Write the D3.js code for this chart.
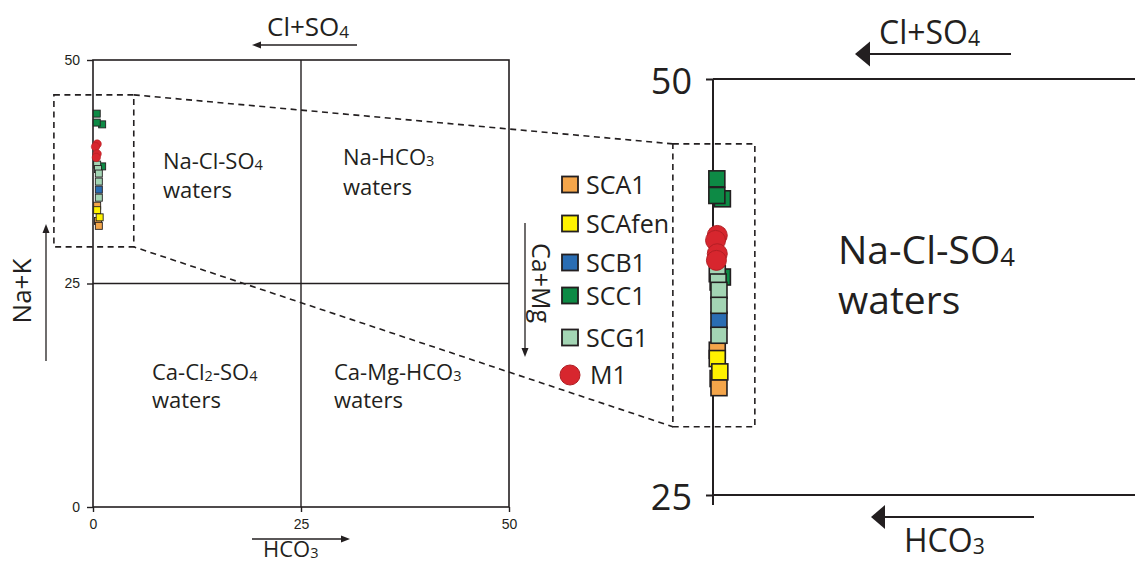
<!DOCTYPE html>
<html><head><meta charset="utf-8">
<script src="https://cdn.jsdelivr.net/npm/d3@7/dist/d3.min.js"></script>
<style>
body{margin:0;background:#fff;}
svg{display:block;}
text{font-family:"Open Sans",sans-serif;fill:#231f20;}
</style></head>
<body>
<svg id="c" width="1135" height="564"></svg>
<script>
// ---- data ----
const seriesNames = ["SCA1","SCAfen","SCB1","SCC1","SCG1","M1"];
const seriesColors = ["#f4a54a","#fff200","#2a6db3","#0d8a45","#a3d5b4","#d7262e"];
const seriesShapes = ["square","square","square","square","square","circle"];
// [HCO3 (x), Na+K (y)] in meq%
const SCA1   = [[0.5,33.7],[0.6,32.0],[0.7,31.45]];
const SCAfen = [[0.5,33.2],[0.8,32.4]];
const SCB1   = [[0.7,35.5]];
const SCC1   = [[1.1,42.8],[0.45,44.0],[0.45,43.0],[1.1,38.1]];
const SCG1   = [[0.5,38.3],[0.6,37.8],[0.7,37.3],[0.7,36.4],[0.7,34.6]];
const M1     = [[0.5,40.6],[0.3,40.3],[0.5,39.5],[0.4,39.1]];
const seriesData = [SCA1,SCAfen,SCB1,SCC1,SCG1,M1];
const xTicks = [0,25,50];
const yTicks = [0,25,50];
const zoomYTicks = [25,50];
const zoomBox = {x0:-4.7, x1:4.9, y0:29.1, y1:46.1};

const svg = d3.select("#c");
const ink = "#231f20";

// ---- scales ----
const xL = d3.scaleLinear().domain([0,50]).range([93,509]);
const yL = d3.scaleLinear().domain([0,50]).range([507,60]);
const xR = d3.scaleLinear().domain([0,50]).range([713,1140]);
const yR = d3.scaleLinear().domain([25,50]).range([495,79]);

// ---- left plot frame ----
const gL = svg.append("g");
gL.append("rect").attr("x",xL(0)).attr("y",yL(50)).attr("width",xL(50)-xL(0)).attr("height",yL(0)-yL(50))
  .attr("fill","none").attr("stroke",ink).attr("stroke-width",1.6);
gL.append("line").attr("x1",xL(25)).attr("x2",xL(25)).attr("y1",yL(50)).attr("y2",yL(0)).attr("stroke",ink).attr("stroke-width",1.4);
gL.append("line").attr("x1",xL(0)).attr("x2",xL(50)).attr("y1",yL(25)).attr("y2",yL(25)).attr("stroke",ink).attr("stroke-width",1.4);

const axL = gL.append("g").attr("transform",`translate(${xL(0)},0)`)
  .call(d3.axisLeft(yL).tickValues(yTicks).tickSize(6).tickPadding(7));
const axB = gL.append("g").attr("transform",`translate(0,${yL(0)})`)
  .call(d3.axisBottom(xL).tickValues(xTicks).tickSize(5).tickPadding(7));
[axL,axB].forEach(a=>{
  a.select(".domain").remove();
  a.selectAll("line").attr("stroke",ink).attr("stroke-width",1.4);
  a.selectAll("text").style("font-family","'Liberation Sans',Arial,sans-serif").style("font-size","14px").attr("fill",ink);
});

// ---- right (zoom) plot frame ----
const gR = svg.append("g");
gR.append("line").attr("x1",xR(0)).attr("x2",1135).attr("y1",yR(50)).attr("y2",yR(50)).attr("stroke",ink).attr("stroke-width",2);
gR.append("line").attr("x1",xR(0)).attr("x2",1135).attr("y1",yR(25)).attr("y2",yR(25)).attr("stroke",ink).attr("stroke-width",2);
gR.append("line").attr("x1",xR(0)).attr("x2",xR(0)).attr("y1",yR(50)).attr("y2",yR(25)+10).attr("stroke",ink).attr("stroke-width",2);
const axR = gR.append("g").attr("transform",`translate(${xR(0)},0)`)
  .call(d3.axisLeft(yR).tickValues(zoomYTicks).tickSize(7).tickPadding(14));
axR.select(".domain").remove();
axR.selectAll("line").attr("stroke",ink).attr("stroke-width",2);
axR.selectAll("text").style("font-family","'Open Sans',sans-serif").style("font-size","36px").attr("fill",ink).attr("dy","0.4em");

// ---- dashed zoom boxes & connectors ----
const dash = "6,4.5";
const bL = {x0:xL(zoomBox.x0), x1:xL(zoomBox.x1), y0:yL(zoomBox.y1), y1:yL(zoomBox.y0)};
const bR = {x0:xR(zoomBox.x0), x1:xR(zoomBox.x1), y0:yR(zoomBox.y1), y1:yR(zoomBox.y0)};
[bL,bR].forEach(b=>{
  svg.append("rect").attr("x",b.x0).attr("y",b.y0).attr("width",b.x1-b.x0).attr("height",b.y1-b.y0)
    .attr("fill","none").attr("stroke",ink).attr("stroke-width",1.6).attr("stroke-dasharray",dash);
});
svg.append("line").attr("x1",bL.x1).attr("y1",bL.y0).attr("x2",bR.x0).attr("y2",bR.y0)
  .attr("stroke",ink).attr("stroke-width",1.6).attr("stroke-dasharray",dash);
svg.append("line").attr("x1",bL.x1).attr("y1",bL.y1).attr("x2",bR.x0).attr("y2",bR.y1)
  .attr("stroke",ink).attr("stroke-width",1.6).attr("stroke-dasharray",dash).attr("stroke-dashoffset",-7);

// ---- points ----
function drawPoints(g, xs, ys, sq, r, sw){
  seriesData.forEach((pts,i)=>{
    const sel = g.append("g").selectAll("path").data(pts).enter();
    if(seriesShapes[i]==="circle"){
      sel.append("circle").attr("cx",d=>xs(d[0])).attr("cy",d=>ys(d[1])).attr("r",r)
        .attr("fill",seriesColors[i]).attr("stroke","#b01e24").attr("stroke-width",sw*0.6);
    } else {
      sel.append("rect").attr("x",d=>xs(d[0])-sq/2).attr("y",d=>ys(d[1])-sq/2).attr("width",sq).attr("height",sq)
        .attr("fill",seriesColors[i]).attr("stroke",ink).attr("stroke-width",sw);
    }
  });
}
drawPoints(svg.append("g"), xL, yL, 7, 4.2, 0.9);
drawPoints(svg.append("g"), xR, yR, 16, 10, 1.6);

// ---- legend ----
const legY = [185,224,263,296,338,375];
const lg = svg.append("g");
seriesNames.forEach((n,i)=>{
  if(seriesShapes[i]==="circle"){
    lg.append("circle").attr("cx",570).attr("cy",legY[i]).attr("r",10).attr("fill",seriesColors[i]).attr("stroke","#b01e24").attr("stroke-width",1);
  } else {
    lg.append("rect").attr("x",562).attr("y",legY[i]-8.5).attr("width",16).attr("height",16)
      .attr("fill",seriesColors[i]).attr("stroke",ink).attr("stroke-width",1.8);
  }
  lg.append("text").attr("x",i===5?590:586).attr("y",legY[i]+9).style("font-size","25px").text(n);
});

// ---- helpers for chemistry labels with subscripts ----
function chem(g, x, y, parts, size, anchor){
  const t = g.append("text").attr("x",x).attr("y",y).style("font-size",size+"px");
  if(anchor) t.attr("text-anchor",anchor);
  parts.forEach(p=>{
    if(typeof p==="string") t.append("tspan").text(p);
    else t.append("tspan").style("font-size",(size*0.66)+"px").attr("dy",size*0.06).text(p.sub);
  });
  let cum = 0;
  t.selectAll("tspan").each(function(){
    const el = d3.select(this);
    const dy = +el.attr("dy")||0;
    if(dy){ cum += dy; }
    else if(cum){ el.attr("dy",-cum); cum = 0; }
  });
  return t;
}
function arrow(g, x1,y1,x2,y2, len, half, sw){
  const dx=x2-x1, dy=y2-y1, L=Math.hypot(dx,dy), ux=dx/L, uy=dy/L;
  const bx=x2-ux*len, by=y2-uy*len;
  g.append("line").attr("x1",x1).attr("y1",y1).attr("x2",bx+ux*1).attr("y2",by+uy*1).attr("stroke",ink).attr("stroke-width",sw);
  g.append("path").attr("d",`M${x2},${y2}L${bx-uy*half},${by+ux*half}L${bx+uy*half},${by-ux*half}Z`).attr("fill",ink);
}
const ann = svg.append("g");
// left plot region labels
chem(ann,163,169,["Na-Cl-SO",{sub:"4"}],22);
ann.append("text").attr("x",163).attr("y",198).style("font-size","22px").text("waters");
chem(ann,343,165,["Na-HCO",{sub:"3"}],22);
ann.append("text").attr("x",343).attr("y",195).style("font-size","22px").text("waters");
chem(ann,152,380,["Ca-Cl",{sub:"2"},"-SO",{sub:"4"}],22);
ann.append("text").attr("x",152).attr("y",408).style("font-size","22px").text("waters");
chem(ann,334,380,["Ca-Mg-HCO",{sub:"3"}],22);
ann.append("text").attr("x",334).attr("y",408).style("font-size","22px").text("waters");

// left plot axis titles
chem(ann,267,36,["Cl+SO",{sub:"4"}],26);
arrow(ann,357,45,252,45,9,3.5,1.3);
chem(ann,263,557,["HCO",{sub:"3"}],22);
arrow(ann,252,539,350,539,9,3.5,1.3);
ann.append("text").attr("transform","translate(31,291) rotate(-90)").attr("text-anchor","middle").style("font-size","26px").text("Na+K");
arrow(ann,46,361,46,224,9,3.5,1.3);
ann.append("text").attr("transform","translate(532,283) rotate(90)").attr("text-anchor","middle").style("font-size","25px").text("Ca+Mg");
arrow(ann,525,223,525,357,9,3.5,1.3);

// right plot labels
chem(ann,838,264,["Na-Cl-SO",{sub:"4"}],39);
ann.append("text").attr("x",838).attr("y",314).style("font-size","39px").text("waters");
chem(ann,879,44,["Cl+SO",{sub:"4"}],32);
arrow(ann,1011,54,855,54,15,12.5,2);
chem(ann,904,552,["HCO",{sub:"3"}],32);
arrow(ann,1034,517,871,517,14,12,2);
</script>
</body></html>
